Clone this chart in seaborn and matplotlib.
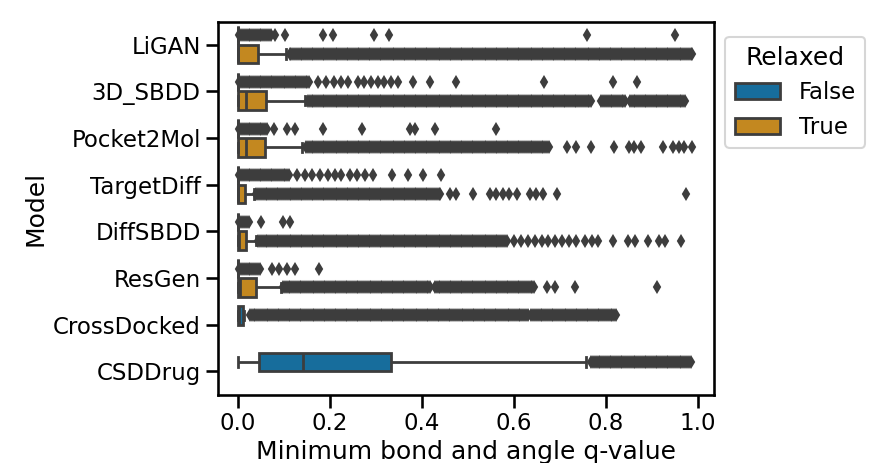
import numpy as np
import pandas as pd
import matplotlib
matplotlib.use("Agg")
import matplotlib.pyplot as plt
import seaborn as sns

models = ["LiGAN", "3D_SBDD", "Pocket2Mol", "TargetDiff", "DiffSBDD",
          "ResGen", "CrossDocked", "CSDDrug"]
relaxed_levels = ["False", "True"]

# One entry per (model, relaxed) group
grp_model = ["LiGAN", "LiGAN", "3D_SBDD", "3D_SBDD", "Pocket2Mol", "Pocket2Mol",
             "TargetDiff", "TargetDiff", "DiffSBDD", "DiffSBDD", "ResGen", "ResGen",
             "CrossDocked", "CSDDrug"]
grp_relaxed = ["False", "True", "False", "True", "False", "True",
               "False", "True", "False", "True", "False", "True",
               "False", "False"]
whisk_lo = [0, 0, 0, 0, 0, 0, 0, 0, 0, 0, 0, 0, 0, 0]
q1 = [0, 0, 0, 0, 0, 0, 0, 0, 0, 0, 0, 0, 0, 0.045]
median = [0, 0.001, 0, 0.017, 0, 0.017, 0, 0.001, 0, 0.002, 0, 0.004, 0.003, 0.141]
q3 = [0, 0.044, 0, 0.060, 0, 0.058, 0, 0.015, 0, 0.0167, 0, 0.0385, 0.010, 0.333]
whisk_hi = [0, 0.105, 0, 0.145, 0, 0.14, 0, 0.035, 0, 0.039, 0, 0.093, 0.014, 0.757]

# dense runs of outliers (start, end) seen as solid bands
dense_runs = [
    [(0.003, 0.072)],
    [(0.112, 0.99)],
    [(0.003, 0.155)],
    [(0.152, 0.77), (0.79, 0.845), (0.852, 0.975)],
    [(0.003, 0.066)],
    [(0.148, 0.678)],
    [(0.003, 0.113)],
    [(0.040, 0.44)],
    [(0.003, 0.026)],
    [(0.044, 0.585)],
    [(0.003, 0.048)],
    [(0.098, 0.42), (0.428, 0.646)],
    [(0.026, 0.631), (0.638, 0.823)],
    [(0.768, 0.985)],
]
# isolated outliers
single_outliers = [
    [0.08, 0.102, 0.185, 0.207, 0.296, 0.328, 0.758, 0.95],
    [],
    [0.175, 0.192, 0.208, 0.224, 0.24, 0.262, 0.275, 0.29, 0.305, 0.318, 0.333,
     0.348, 0.381, 0.417, 0.475, 0.666, 0.815, 0.868],
    [],
    [0.078, 0.106, 0.124, 0.184, 0.269, 0.374, 0.385, 0.428, 0.562],
    [0.715, 0.736, 0.767, 0.817, 0.85, 0.862, 0.876, 0.925, 0.946, 0.958, 0.97, 0.988],
    [0.128, 0.146, 0.16, 0.178, 0.196, 0.21, 0.225, 0.243, 0.258, 0.276, 0.294,
     0.334, 0.37, 0.403, 0.441],
    [0.461, 0.475, 0.512, 0.548, 0.562, 0.576, 0.59, 0.606, 0.635, 0.649, 0.664,
     0.693, 0.975],
    [0.05, 0.098, 0.113],
    [0.6, 0.615, 0.63, 0.645, 0.66, 0.675, 0.69, 0.705, 0.72, 0.736, 0.755, 0.77,
     0.783, 0.816, 0.848, 0.863, 0.892, 0.915, 0.928, 0.964],
    [0.073, 0.09, 0.107, 0.124, 0.176],
    [0.672, 0.69, 0.733, 0.912],
    [],
    [],
]

rows = []
for i in range(len(grp_model)):
    outl = []
    for a, b in dense_runs[i]:
        outl.extend(np.arange(a, b + 1e-9, 0.004).tolist())
    outl.extend(single_outliers[i])
    k = len(outl) + 5
    vals = ([whisk_lo[i]] + [q1[i]] * k + [median[i]] * k + [q3[i]] * k
            + [whisk_hi[i]] + outl)
    for v in vals:
        rows.append((grp_model[i], grp_relaxed[i], v))
df = pd.DataFrame(rows, columns=["Model", "Relaxed", "q"])

sns.set_context("talk")
fig = plt.figure(figsize=(8.69, 4.63), dpi=100)
ax = fig.add_axes([218 / 869, 1 - 394.5 / 463, (714 - 218) / 869, (394.5 - 21.5) / 463])
line_gray = "#3d3d3d"
sns.boxplot(data=df, x="q", y="Model", hue="Relaxed", order=models,
            hue_order=relaxed_levels, palette="colorblind", ax=ax,
            linewidth=2, linecolor=line_gray,
            flierprops={"marker": "d", "markersize": 5.5,
                        "markerfacecolor": line_gray,
                        "markeredgecolor": line_gray,
                        "markeredgewidth": 1.5})
ax.set_xlim(-0.0435, 1.035)
ax.set_xticks([0.0, 0.2, 0.4, 0.6, 0.8, 1.0])
ax.set_xlabel("Minimum bond and angle q-value")
ax.set_ylabel("Model")
sns.move_legend(ax, "upper left", bbox_to_anchor=(1, 0.99), title="Relaxed")
fig.savefig("out.png", dpi=100)
